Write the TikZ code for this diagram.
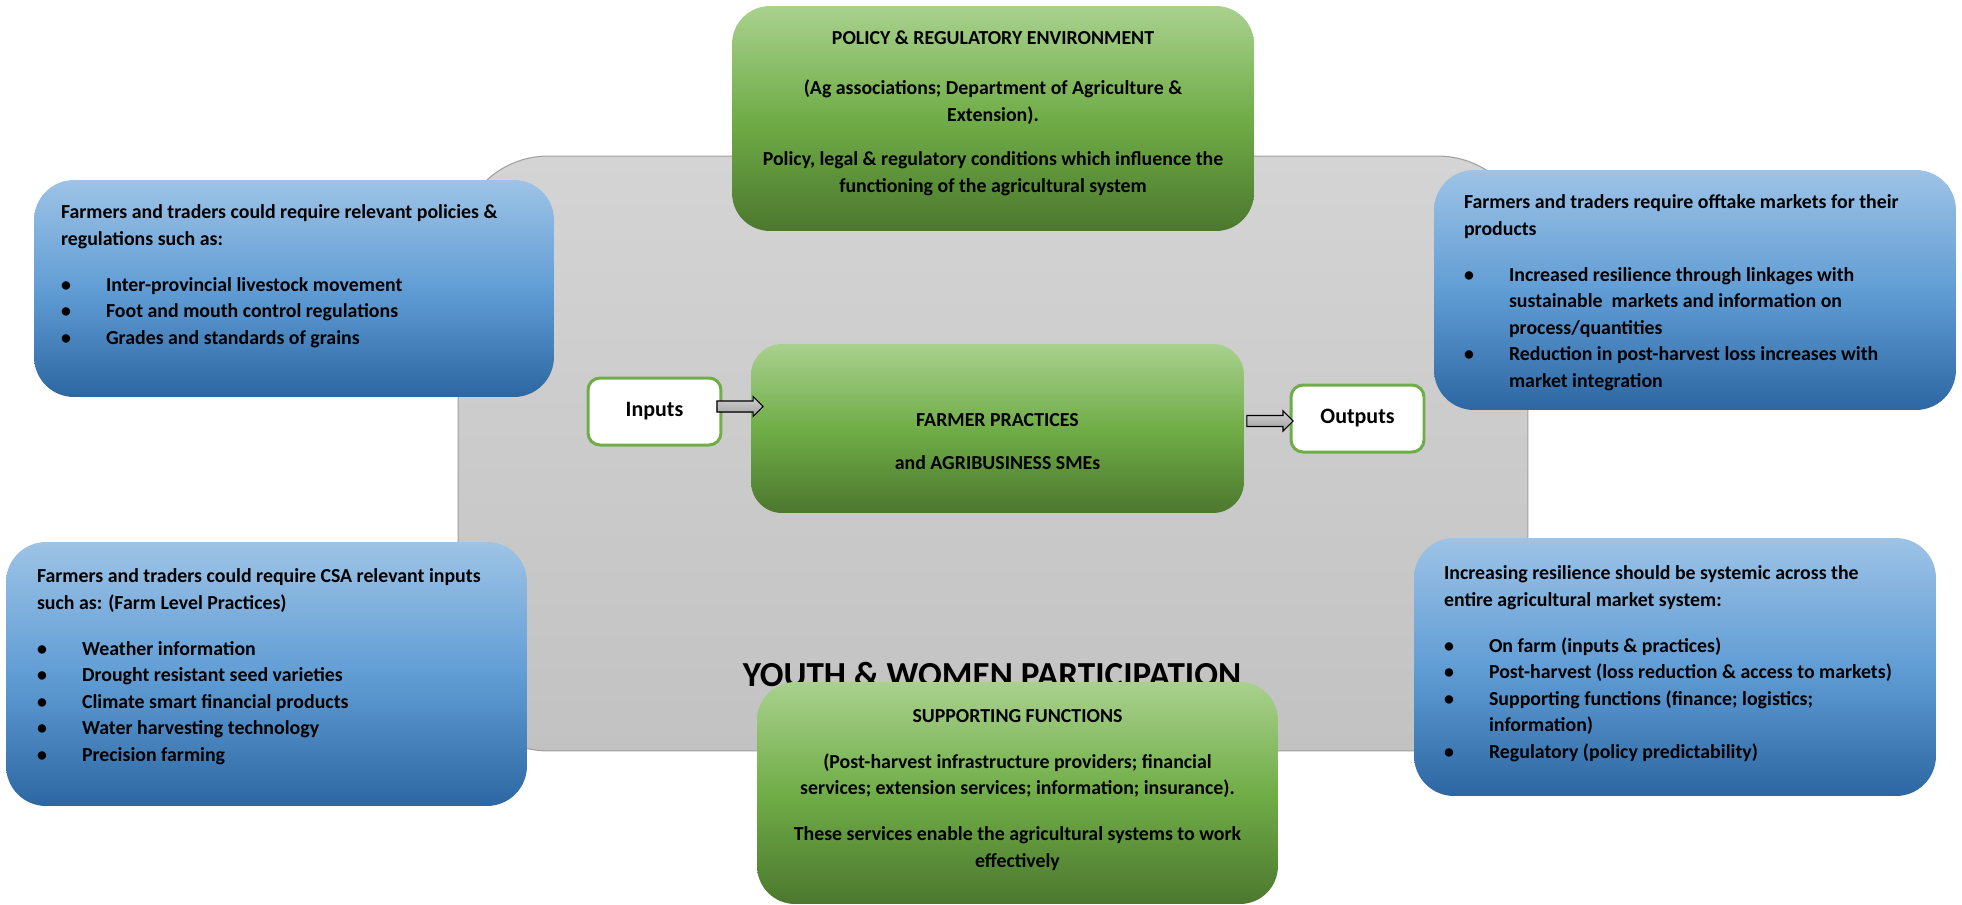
\documentclass[tikz,border=0pt]{standalone}
\usepackage{fontspec}
\setmainfont{Carlito}
\usetikzlibrary{calc,positioning}
\definecolor{bluetop}{RGB}{157,195,230}
\definecolor{bluemid}{RGB}{97,157,213}
\definecolor{bluebot}{RGB}{44,103,163}
\definecolor{greentop}{RGB}{169,209,142}
\definecolor{greenmid}{RGB}{112,173,71}
\definecolor{greenbot}{RGB}{76,120,46}
\definecolor{backtop}{RGB}{212,212,212}
\definecolor{backbot}{RGB}{194,194,194}
\definecolor{backline}{RGB}{160,160,160}
\def\pu{0.02cm}
\newcommand{\itm}{\makebox[0.9cm][l]{\textbullet}}
\newcommand{\blockarrow}[2]{%
	\path (#1) coordinate (ba-s) (#2) coordinate (ba-e);
	\path (ba-e |- ba-s) coordinate (ba-t);
	\filldraw[blockarr] ($(ba-s)+(0,-5.5)$) -- ($(ba-t)+(-10,-5.5)$)
		-- ($(ba-t)+(-10,-10)$) -- (ba-t) -- ($(ba-t)+(-10,10)$)
		-- ($(ba-t)+(-10,5.5)$) -- ($(ba-s)+(0,5.5)$) -- cycle;}
\begin{document}
\begin{tikzpicture}[x=\pu,y=-\pu,
		every node/.style={inner sep=0pt,outer sep=0pt},
		backbox/.style={rounded corners=1.8cm,top color=backtop,bottom color=backbot,draw=backline,line width=0.6pt},
		bluebox/.style={rounded corners=0.8cm,top color=bluetop,bottom color=bluebot,middle color=bluemid},
		greenbox/.style={rounded corners=0.76cm,top color=greentop,bottom color=greenbot,middle color=greenmid},
		whitebox/.style={rounded corners=0.24cm,fill=white,draw=greenmid,line width=0.06cm,
			minimum width=2.66cm,minimum height=1.34cm,font=\fontsize{12.5}{15}\selectfont\bfseries},
		bodytxt/.style={font=\fontsize{11.3}{15.1}\selectfont\bfseries,align=left},
		titletxt/.style={font=\fontsize{11.3}{15.1}\selectfont\bfseries,align=center},
		blockarr/.style={top color=gray!35,bottom color=gray!75,draw=black,line width=0.6pt,line join=miter},
		youth/.style={font=\fontsize{20}{24}\selectfont\bfseries}]
	\useasboundingbox (0,0) rectangle (1962,904);
	\node[backbox,minimum width=21.4cm,minimum height=11.9cm] (back) at (993,453.5) {};
	\node[bluebox,minimum width=10.4cm,minimum height=4.34cm] (regs) at (294,288.5) {};
	\node[bluebox,minimum width=10.44cm,minimum height=4.8cm] (markets) at (1695,290) {};
	\node[bluebox,minimum width=10.42cm,minimum height=5.28cm] (csa) at (266.5,674) {};
	\node[bluebox,minimum width=10.44cm,minimum height=5.16cm] (system) at (1675,667) {};
	\node[bodytxt,anchor=north west] (regs-txt) at ([shift={(27,25)}]regs.north west)
		{Farmers and traders could require relevant policies \&\\regulations such as:\\[11pt]
		\itm Inter-provincial livestock movement\\
		\itm Foot and mouth control regulations\\
		\itm Grades and standards of grains};
	\node[bodytxt,anchor=north west] (markets-txt) at ([shift={(30,25)}]markets.north west)
		{Farmers and traders require offtake markets for their\\products\\[11pt]
		\itm Increased resilience through linkages with\\
		\hspace*{0.9cm}sustainable\ \ markets and information on\\
		\hspace*{0.9cm}process/quantities\\
		\itm Reduction in post-harvest loss increases with\\
		\hspace*{0.9cm}market integration};
	\node[bodytxt,anchor=north west] (csa-txt) at ([shift={(31,27)}]csa.north west)
		{Farmers and traders could require CSA relevant inputs\\such as: (Farm Level Practices)\\[11pt]
		\itm Weather information\\
		\itm Drought resistant seed varieties\\
		\itm Climate smart financial products\\
		\itm Water harvesting technology\\
		\itm Precision farming};
	\node[bodytxt,anchor=north west] (system-txt) at ([shift={(30,28)}]system.north west)
		{Increasing resilience should be systemic across the\\entire agricultural market system:\\[11pt]
		\itm On farm (inputs \& practices)\\
		\itm Post-harvest (loss reduction \& access to markets)\\
		\itm Supporting functions (finance; logistics;\\
		\hspace*{0.9cm}information)\\
		\itm Regulatory (policy predictability)};
	\node[greenbox,minimum width=10.44cm,minimum height=4.5cm] (policy) at (993,118.5) {};
	\node[titletxt,anchor=north] (policy-txt) at ([shift={(0,25)}]policy.north)
		{POLICY \& REGULATORY ENVIRONMENT\\[13.5pt]
		(Ag associations; Department of Agriculture \&\\Extension).\\[10pt]
		Policy, legal \& regulatory conditions which influence the\\functioning of the agricultural system};
	\node[greenbox,rounded corners=0.62cm,minimum width=9.86cm,minimum height=3.38cm] (farm) at (997.5,428.5) {};
	\node[titletxt,anchor=north] (farm-txt) at ([shift={(0,69.5)}]farm.north)
		{FARMER PRACTICES\\[9.5pt]and AGRIBUSINESS SMEs};
	\node[whitebox] (inputs) at (654.5,411.5) {Inputs};
	\node[whitebox] (outputs) at (1357.5,418.5) {Outputs};
	\blockarrow{[shift={(-4,-5)}]inputs.east}{[xshift=0.24cm]farm.west}
	\blockarrow{[shift={(3,-7.5)}]farm.east}{[xshift=0.04cm]outputs.west}
	\node[youth,anchor=base] (youth) at (992,686) {YOUTH \& WOMEN PARTICIPATION};
	\node[greenbox,minimum width=10.42cm,minimum height=4.44cm] (support) at (1017.5,793) {};
	\node[titletxt,anchor=north] (support-txt) at ([shift={(0,27.5)}]support.north)
		{SUPPORTING FUNCTIONS\\[11pt]
		(Post-harvest infrastructure providers; financial\\services; extension services; information; insurance).\\[11pt]
		These services enable the agricultural systems to work\\effectively};
\end{tikzpicture}
\end{document}
